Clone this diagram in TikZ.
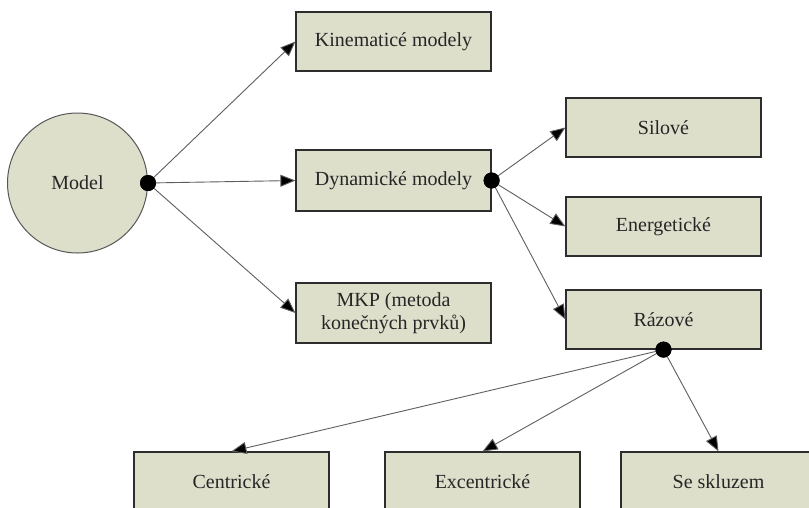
\documentclass[tikz,border=0pt]{standalone}
\usepackage{fontspec}
\setmainfont{Liberation Serif}
\usetikzlibrary{arrows.meta,calc}
\definecolor{boxfill}{RGB}{221,223,203}
\definecolor{boxline}{RGB}{45,45,45}
\definecolor{wire}{RGB}{95,95,95}
\tikzset{
  box/.style={draw=boxline,line width=1.2pt,fill=boxfill,minimum width=195pt,
    minimum height=59pt,inner sep=2pt,font=\fontsize{20}{23}\selectfont,
    text=black!85,align=center},
  hub/.style={circle,fill=black,inner sep=0pt,minimum size=16pt},
  link/.style={draw=wire,line width=0.9pt,-{Triangle[length=15pt,width=12pt,fill=black]}}
}
\begin{document}
\begin{tikzpicture}[x=1pt,y=-1pt]
\useasboundingbox (0,0) rectangle (809,507);
\fill[white] (0,0) rectangle (809,507);
\clip (0,0) rectangle (809,507);

% root
\node[circle,draw=boxline!80,line width=1pt,fill=boxfill,minimum size=140pt,
  font=\fontsize{20}{23}\selectfont,text=black!85] (model) at (77.5,183) {Model};

% first level
\node[box] (kin) at (393.5,41.5) {Kinematicé modely};
\node[box,minimum height=61pt] (dyn) at (393.5,180.5) {Dynamické modely};
\node[box,minimum height=60pt] (mkp) at (393.5,313) {MKP (metoda\\konečných prvků)};

% second level
\node[box] (sil) at (663.5,127.5) {Silové};
\node[box] (ene) at (663.5,226.5) {Energetické};
\node[box] (raz) at (663.5,319.5) {Rázové};

% third level
\node[box] (cen) at (231.5,481.5) {Centrické};
\node[box] (exc) at (482.5,481.5) {Excentrické};
\node[box] (sks) at (718.5,481.5) {Se skluzem};

% branching points
\node[hub] (h1) at (model.east) {};
\node[hub] (h2) at (dyn.east) {};
\node[hub] (h3) at (raz.south) {};

% connectors
\draw[link] (h1.center) -- (kin.west);
\draw[link] (h1.center) -- (dyn.west);
\draw[link] (h1.center) -- (mkp.west);
\draw[link] (h2.center) -- (sil.west);
\draw[link] (h2.center) -- (ene.west);
\draw[link] (h2.center) -- (raz.west);
\draw[link] (h3.center) -- (cen.north);
\draw[link] (h3.center) -- (exc.north);
\draw[link] (h3.center) -- (sks.north);

% dots on top of the wires
\node[hub] at (h1) {};
\node[hub] at (h2) {};
\node[hub] at (h3) {};
\end{tikzpicture}
\end{document}
